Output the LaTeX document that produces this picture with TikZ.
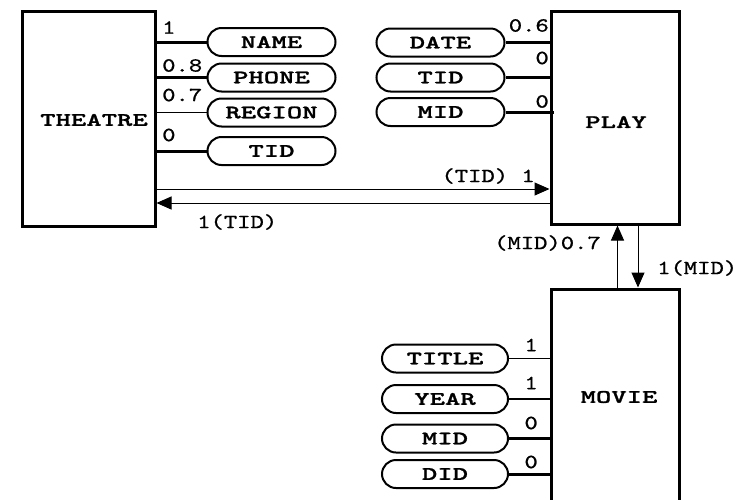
\documentclass[tikz,border=0pt]{standalone}
\usepackage{fontspec}
\usetikzlibrary{arrows.meta,calc}
\newfontfamily\namefont{lmmonolt10-bold.otf}[FakeStretch=1.54,FakeBold=1.2]
\newfontfamily\lblfont{lmmono10-regular.otf}[FakeStretch=1.27,FakeBold=1]
\tikzset{
  entitybox/.style={draw, line width=3pt, rectangle, inner sep=0pt},
  entitytext/.style={inner sep=0pt, font=\namefont\fontsize{19}{19}\selectfont},
  attr/.style={draw, line width=2pt, rounded corners=14pt, minimum width=128pt,
    minimum height=28pt, inner sep=0pt, font=\namefont\fontsize{19}{19}\selectfont},
  thickln/.style={line width=3pt},
  thinln/.style={line width=1.5pt},
  card/.style={inner sep=0pt, font=\lblfont\fontsize{20}{20}\selectfont},
  rel/.style={line width=1pt, -{Triangle[length=15pt,width=13pt]}}
}
\begin{document}
\begin{tikzpicture}[x=1pt,y=-1pt]
\useasboundingbox (0,0) rectangle (737,499);
\clip (0,0) rectangle (737,499);
% entities
\node[entitybox, minimum width=133pt, minimum height=215pt] (theatre) at (88.5,118.5) {};
\node[entitybox, minimum width=128pt, minimum height=213pt] (play) at (615,117.5) {};
\node[entitybox, minimum width=128pt, minimum height=240pt] (movie) at (615,409) {};
\node[entitytext] (theatretext) at (94,120) {THEATRE};
\node[entitytext] (playtext) at (616,122) {PLAY};
\node[entitytext] (movietext) at (619,397) {MOVIE};
% theatre attributes
\node[attr] (tname) at (271.5,42) {NAME};
\node[attr] (tphone) at (271.5,77.5) {PHONE};
\node[attr] (tregion) at (271.5,112.5) {REGION};
\node[attr] (ttid) at (271.5,151) {TID};
\draw[thickln] (theatre.east |- tname) -- (tname.west);
\draw[thickln] (theatre.east |- tphone) -- (tphone.west);
\draw[thinln] (theatre.east |- tregion) -- (tregion.west);
\draw[thickln] (theatre.east |- ttid) -- (ttid.west);
\node[card, anchor=west] (c1) at (162,27.5) {1};
\node[card, anchor=west] (c2) at (162,65.5) {0.8};
\node[card, anchor=west] (c3) at (162,95) {0.7};
\node[card, anchor=west] (c4) at (162,135) {0};
% play attributes
\node[attr] (pdate) at (440.5,42.5) {DATE};
\node[attr] (ptid) at (440.5,77.5) {TID};
\node[attr] (pmid) at (440.5,112) {MID};
\draw[thickln] (pdate.east) -- (play.west |- pdate);
\draw[thickln] (ptid.east) -- (play.west |- ptid);
\draw[thickln] (pmid.east) -- ([xshift=4pt]play.west |- pmid);
\node[card, anchor=east] (c5) at (549,25.5) {0.6};
\node[card, anchor=east] (c6) at (549,58) {0};
\node[card, anchor=east] (c7) at (549,101.5) {0};
% movie attributes
\node[attr, minimum width=126pt] (mtitle) at (445,358.5) {TITLE};
\node[attr, minimum width=126pt] (myear) at (445,399) {YEAR};
\node[attr, minimum width=126pt] (mmid) at (445,438.5) {MID};
\node[attr, minimum width=126pt] (mdid) at (445,474) {DID};
\draw[thinln] (mtitle.east) -- (movie.west |- mtitle);
\draw[thinln] (myear.east) -- (movie.west |- myear);
\draw[thickln] (mmid.east) -- (movie.west |- mmid);
\draw[thickln] (mdid.east) -- (movie.west |- mdid);
\node[card, anchor=east] (c8) at (538,345) {1};
\node[card, anchor=east] (c9) at (538,383) {1};
\node[card, anchor=east] (c10) at (538,423) {0};
\node[card, anchor=east] (c11) at (538,462) {0};
% relationships
\coordinate (r1) at (0,189);
\coordinate (r2) at (0,203);
\coordinate (u1) at (617.5,0);
\coordinate (u2) at (638,0);
\draw[rel] (theatre.east |- r1) -- (play.west |- r1);
\draw[rel] (play.west |- r2) -- (theatre.east |- r2);
\draw[rel] (movie.north -| u1) -- (play.south -| u1);
\draw[rel] (play.south -| u2) -- (movie.north -| u2);
\node[card, anchor=east] (l1) at (535,176) {(TID) 1};
\node[card, anchor=west] (l2) at (197,222) {1(TID)};
\node[card, anchor=east] (l3) at (601,243) {(MID)0.7};
\node[card, anchor=west] (l4) at (657,268) {1(MID)};
\end{tikzpicture}
\end{document}
